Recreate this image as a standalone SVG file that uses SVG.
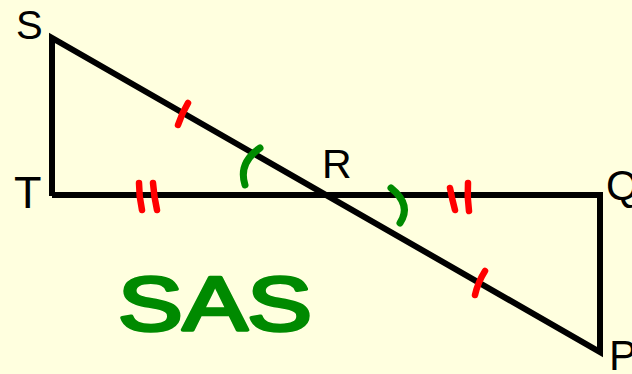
<svg xmlns="http://www.w3.org/2000/svg" width="632" height="374" viewBox="0 0 632 374">
<style>
.lbl{font-family:"Liberation Sans",Arial,sans-serif;fill:#000}
.edge{stroke:#000;stroke-width:6;fill:none;stroke-linejoin:miter;stroke-linecap:butt}
.tick{stroke:#ff0000;stroke-width:6.5;fill:none;stroke-linecap:round}
.ang{stroke:#008a00;stroke-width:7;fill:none;stroke-linecap:round}
.hand{font-family:"Liberation Sans",Arial,sans-serif;fill:#008a00;stroke:#008a00;stroke-width:3.5;stroke-linejoin:round}
</style>
<rect width="632" height="374" fill="#ffffdf"/>
<g id="connectors">
<polyline class="edge" points="52,196 52,38 600,352 600,195 52,195"/>
</g>
<g id="marks">
<path class="tick" d="M178,125 Q182,113 188,103"/>
<path class="tick" d="M475,295 Q478,282 485,271"/>
<path class="tick" d="M139,183 Q139,197 142,210"/>
<path class="tick" d="M153,183 Q154,197 157,210"/>
<path class="tick" d="M450,188 Q452,199 455,210"/>
<path class="tick" d="M468,183 Q467,197 469,211"/>
<path class="ang" d="M260,148 Q238,163 245,185"/>
<path class="ang" d="M391,188 Q412,205 400,223"/>
</g>
<g id="node-S"><text class="lbl" x="16" y="39" font-size="40">S</text></g>
<g id="node-T"><text class="lbl" x="14" y="208" font-size="45">T</text></g>
<g id="node-R"><text class="lbl" x="322" y="178" font-size="41">R</text></g>
<g id="node-Q"><text class="lbl" x="606" y="200" font-size="42">Q</text></g>
<g id="node-P"><text class="lbl" x="609" y="370" font-size="42">P</text></g>
<g id="label-SAS"><text class="hand" x="118" y="330" font-size="76" textLength="194" lengthAdjust="spacingAndGlyphs">SAS</text></g>
</svg>
